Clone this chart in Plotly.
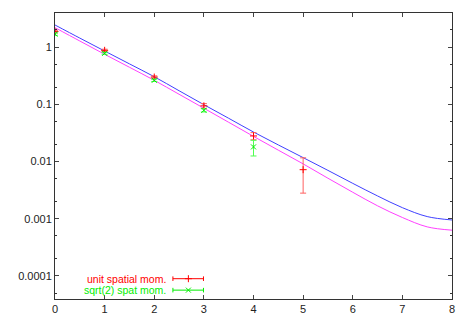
"""Log-scale correlator plot with two measured series and two fit curves."""

import plotly.graph_objects as go

# measured points
t_points = [0, 1, 2, 3, 4, 5]
unit_vals = [1.87, 0.88, 0.30, 0.094, 0.028, 0.0072]
unit_errs = [0.10, 0.04, 0.015, 0.009, 0.004, 0.0044]

t_points_sqrt2 = [0, 1, 2, 3, 4]
sqrt2_vals = [1.69, 0.78, 0.263, 0.0786, 0.018]
sqrt2_errs = [0.08, 0.03, 0.012, 0.005, 0.0055]

# fit curves, every half unit
t_curve = [0, 0.5, 1, 1.5, 2, 2.5, 3, 3.5, 4, 4.5, 5, 5.5, 6, 6.5, 7, 7.5, 8]
fit_blue = [2.44, 1.44, 0.855, 0.51, 0.304, 0.173, 0.0986, 0.057, 0.0328,
            0.0195, 0.0117, 0.0070, 0.00415, 0.0025, 0.00156, 0.00109, 0.00095]
fit_magenta = [2.19, 1.28, 0.75, 0.445, 0.263, 0.150, 0.0855, 0.0485, 0.0275,
               0.0158, 0.0091, 0.0051, 0.0029, 0.00168, 0.00105, 0.00072, 0.00063]

y_major = [1e-4, 1e-3, 1e-2, 1e-1, 1]
y_major_text = ["0.0001", "0.001", "0.01", "0.1", "1"]
y_minor = [m * 10.0 ** e for e in range(-5, 1) for m in (2, 5)]

RED = "#ff0000"
GREEN = "#00ee00"
BLUE = "#4040ff"
MAGENTA = "#ff40ff"
FONT = "Liberation Sans, Arial, sans-serif"

fig = go.Figure()

fig.add_trace(go.Scatter(x=t_curve, y=fit_blue, mode="lines", line_shape="spline",
                         line=dict(color=BLUE, width=1), showlegend=False))
fig.add_trace(go.Scatter(x=t_curve, y=fit_magenta, mode="lines", line_shape="spline",
                         line=dict(color=MAGENTA, width=1), showlegend=False))

fig.add_trace(go.Scatter(
    x=t_points, y=unit_vals, mode="markers",
    marker=dict(symbol="cross-thin-open", size=5, color=RED, line=dict(color=RED, width=1)),
    error_y=dict(type="data", array=unit_errs, color="#ff6060", thickness=1, width=3),
    showlegend=False,
))
fig.add_trace(go.Scatter(
    x=t_points_sqrt2, y=sqrt2_vals, mode="markers",
    marker=dict(symbol="x-thin-open", size=5, color=GREEN, line=dict(color=GREEN, width=1)),
    error_y=dict(type="data", array=sqrt2_errs, color="#50ff50", thickness=1, width=3),
    showlegend=False,
))

# hand-drawn gnuplot-style key in the lower left
key = [("unit spatial mom.", RED, "cross-thin-open", 0.071),
       ("sqrt(2) spat mom.", GREEN, "x-thin-open", 0.031)]
for label, color, symbol, ypos in key:
    fig.add_annotation(x=0.284, y=ypos, xref="paper", yref="paper", text=label,
                       showarrow=False, xanchor="right", yanchor="middle",
                       font=dict(color=color, size=10.5, family=FONT))
    fig.add_shape(type="line", xref="paper", yref="paper", x0=0.297, x1=0.374,
                  y0=ypos, y1=ypos, line=dict(color=color, width=1))
    for xc in (0.297, 0.374):
        fig.add_shape(type="line", xref="paper", yref="paper", x0=xc, x1=xc,
                      y0=ypos - 0.008, y1=ypos + 0.008, line=dict(color=color, width=1))
    fig.add_trace(go.Scatter(x=[0.336], y=[ypos], xaxis="x2", yaxis="y2", mode="markers",
                             marker=dict(symbol=symbol, size=5, color=color,
                                         line=dict(color=color, width=1)),
                             showlegend=False, hoverinfo="skip"))

fig.update_layout(
    width=469, height=327,
    margin=dict(l=55, r=17, t=13, b=21),
    paper_bgcolor="white", plot_bgcolor="white",
    font=dict(family=FONT, size=11, color="#222222"),
    showlegend=False,
    xaxis=dict(range=[0, 8], tickvals=list(range(9)), ticks="inside", ticklen=4,
               showline=True, linecolor="#333333", linewidth=1, mirror="allticks",
               showgrid=False, zeroline=False, tickfont=dict(size=11)),
    yaxis=dict(type="log", range=[-4.404, 0.597], tickmode="array",
               tickvals=y_major, ticktext=y_major_text, ticks="inside", ticklen=4,
               showline=True, linecolor="#333333", linewidth=1, mirror="allticks",
               showgrid=False, zeroline=False, tickfont=dict(size=11),
               minor=dict(tickmode="array", tickvals=y_minor, ticks="inside",
                          ticklen=2, tickcolor="#333333")),
    xaxis2=dict(range=[0, 1], overlaying="x", visible=False),
    yaxis2=dict(range=[0, 1], overlaying="y", visible=False),
)

fig.write_html("out.html", config={"displayModeBar": False},
               post_script="document.body.style.margin='0';")
